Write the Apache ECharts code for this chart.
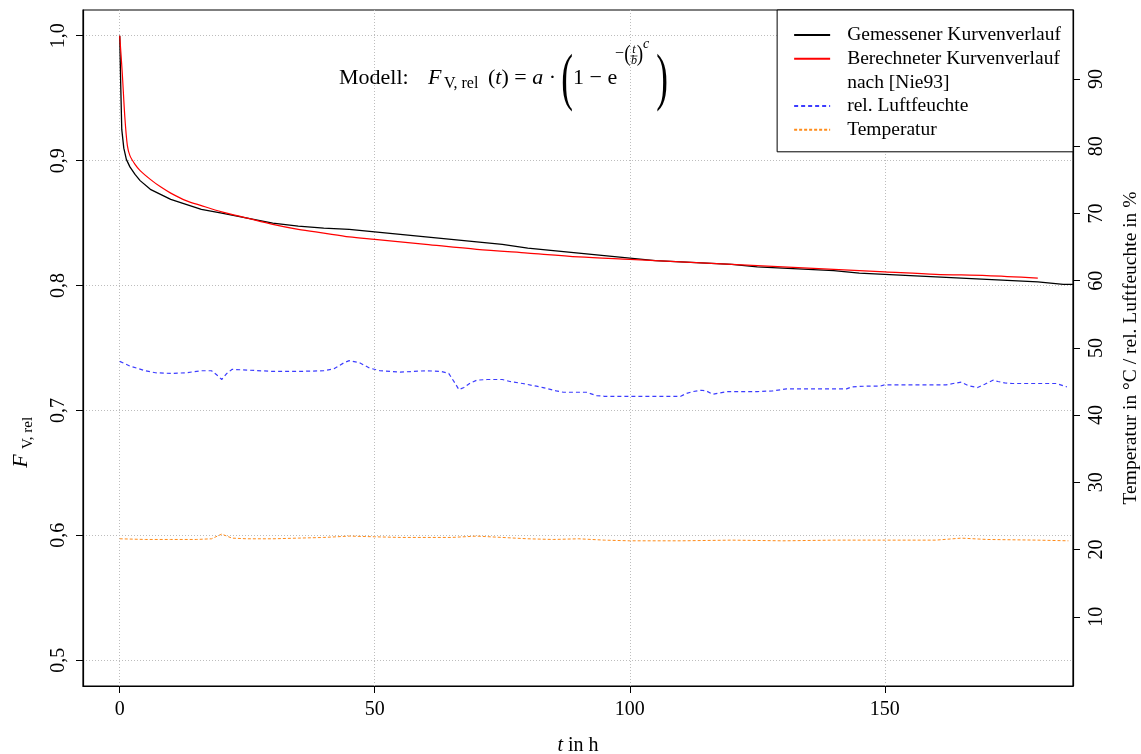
<!DOCTYPE html>
<html><head><meta charset="utf-8">
<script src="https://cdn.jsdelivr.net/npm/echarts@6/dist/echarts.min.js"></script>
<style>html,body{margin:0;padding:0;background:#fff}#c{width:1141px;height:754px}</style>
</head><body><div id="c"></div><script>
// ---- tick values ----
const xTicks = [0, 50, 100, 150];
const yLeftTicks = [0.5, 0.6, 0.7, 0.8, 0.9, 1.0];
const yRightTicks = [10, 20, 30, 40, 50, 60, 70, 80, 90];

// ---- Gemessener Kurvenverlauf (measured) ----
const tMeasured = [0, 0.2, 0.4, 0.8, 1.3, 2, 3, 4, 6, 8, 10, 13, 16, 20, 25, 30, 35, 40, 45, 50, 55, 60, 65, 70, 75, 80, 85, 90, 95, 100, 105, 110, 115, 120, 125, 130, 135, 140, 145, 150, 155, 160, 165, 170, 175, 180, 185, 186.9];
const fMeasured = [1.0, 0.96, 0.925, 0.910, 0.901, 0.895, 0.889, 0.884, 0.877, 0.873, 0.869, 0.865, 0.861, 0.858, 0.854, 0.850, 0.8475, 0.846, 0.845, 0.843, 0.841, 0.839, 0.837, 0.835, 0.833, 0.830, 0.828, 0.826, 0.824, 0.822, 0.820, 0.819, 0.818, 0.817, 0.815, 0.814, 0.813, 0.812, 0.810, 0.809, 0.808, 0.807, 0.806, 0.805, 0.804, 0.803, 0.801, 0.801];

// ---- Berechneter Kurvenverlauf (model) ----
const tModel = [0, 0.5, 1, 1.5, 2, 3, 4, 6, 8, 10, 13, 16, 20, 25, 30, 35, 40, 45, 50, 60, 70, 80, 90, 100, 110, 120, 130, 140, 150, 160, 170, 180];
const fModel = [1.0, 0.97, 0.935, 0.912, 0.904, 0.897, 0.892, 0.885, 0.879, 0.874, 0.868, 0.864, 0.859, 0.854, 0.849, 0.845, 0.842, 0.839, 0.837, 0.833, 0.829, 0.826, 0.823, 0.821, 0.819, 0.817, 0.815, 0.813, 0.811, 0.809, 0.808, 0.806];

// ---- rel. Luftfeuchte (%) ----
const tHum = [0, 2, 5, 7, 10, 13, 16, 18, 19, 20, 21, 22, 25, 30, 35, 40, 42, 44, 45, 47, 49, 51, 55, 60, 63, 64.5, 65.7, 66.5, 67.5, 68.6, 70, 72, 75, 76.5, 79, 81.7, 83, 85.6, 87, 91.5, 93.5, 95, 100, 105, 110, 111, 112.4, 114, 115, 116.3, 117.6, 119, 125, 128, 130.7, 136, 142.5, 143.5, 146, 149, 150, 162, 163.4, 165, 166.3, 168.2, 169.6, 171.2, 172.2, 173.5, 175, 183.7, 185.7];
const vHum = [48.0, 47.3, 46.6, 46.3, 46.2, 46.3, 46.6, 46.6, 46.0, 45.3, 46.2, 46.8, 46.7, 46.5, 46.5, 46.6, 46.9, 47.8, 48.1, 47.8, 47.0, 46.6, 46.4, 46.6, 46.5, 46.2, 44.8, 43.8, 44.1, 44.7, 45.2, 45.3, 45.3, 45.0, 44.7, 44.3, 44.1, 43.6, 43.4, 43.4, 42.9, 42.8, 42.8, 42.8, 42.8, 43.2, 43.5, 43.7, 43.6, 43.1, 43.3, 43.5, 43.5, 43.6, 43.9, 43.9, 43.9, 44.2, 44.3, 44.3, 44.5, 44.5, 44.7, 44.9, 44.4, 44.1, 44.6, 45.2, 45.0, 44.8, 44.7, 44.7, 44.2];

// ---- Temperatur (°C) ----
const tTemp = [0, 5, 10, 15, 18, 20, 22, 25, 30, 35, 40, 45, 50, 55, 60, 65, 70, 75, 80, 85, 90, 95, 100, 110, 120, 130, 140, 150, 160, 165, 170, 180, 186];
const vTemp = [21.6, 21.5, 21.5, 21.5, 21.6, 22.3, 21.7, 21.6, 21.6, 21.7, 21.8, 22.0, 21.9, 21.8, 21.8, 21.8, 22.0, 21.8, 21.6, 21.5, 21.6, 21.4, 21.3, 21.3, 21.4, 21.3, 21.4, 21.4, 21.4, 21.7, 21.5, 21.4, 21.3];

const names = ['Gemessener Kurvenverlauf', 'Berechneter Kurvenverlauf', 'nach [Nie93]', 'rel. Luftfeuchte', 'Temperatur'];

const pairs = (xs, ys) => xs.map((x, i) => [x, ys[i]]);
const SERIF = '"Liberation Serif", "DejaVu Serif", serif';
const gridLine = { show: true, lineStyle: { color: '#bdbdbd', width: 1, type: [1, 2] } };

const chart = echarts.init(document.getElementById('c'), null, { renderer: 'canvas' });
chart.setOption({
  animation: false,
  backgroundColor: '#fff',
  grid: { left: 83, right: 68, top: 10, bottom: 68, outerBoundsMode: 'none', containLabel: false,
    show: true, borderColor: '#000', borderWidth: 1.2, backgroundColor: 'transparent' },
  xAxis: {
    type: 'value', min: -7.2, max: 186.9,
    axisLine: { show: true, onZero: false, lineStyle: { color: '#000', width: 1.2 } },
    axisTick: { show: true, length: 7, customValues: xTicks, lineStyle: { color: '#000' } },
    axisLabel: { customValues: xTicks, margin: 14, fontFamily: SERIF, fontSize: 20, color: '#000' },
    splitLine: gridLine,
    name: '{i|t} in h', nameLocation: 'middle', nameGap: 50,
    nameTextStyle: { fontFamily: SERIF, fontSize: 20, color: '#000', rich: { i: { fontFamily: SERIF, fontSize: 20, fontStyle: 'italic', color: '#000' } } }
  },
  yAxis: [{
    type: 'value', min: 0.4794, max: 1.0206, position: 'left',
    axisLine: { show: true, onZero: false, lineStyle: { color: '#000', width: 1.2 } },
    axisTick: { show: true, length: 7, customValues: yLeftTicks, lineStyle: { color: '#000' } },
    axisLabel: { customValues: yLeftTicks, rotate: 90, margin: 14, fontFamily: SERIF, fontSize: 20, color: '#000',
      formatter: v => v.toFixed(1).replace('.', ',') },
    splitLine: gridLine
  }, {
    type: 'value', min: -0.3, max: 100.27, position: 'right',
    axisLine: { show: true, onZero: false, lineStyle: { color: '#000', width: 1.2 } },
    axisTick: { show: true, length: 7, customValues: yRightTicks, lineStyle: { color: '#000' } },
    axisLabel: { customValues: yRightTicks, rotate: 90, margin: 14, fontFamily: SERIF, fontSize: 20, color: '#000' },
    splitLine: { show: false },
    name: 'Temperatur in °C / rel. Luftfeuchte in %', nameLocation: 'middle', nameGap: 48,
    nameTextStyle: { fontFamily: SERIF, fontSize: 19.5, color: '#000' }
  }],
  legend: {
    orient: 'vertical', right: 68, top: 10,
    padding: [15, 12, 12, 16], itemGap: 3.7, itemWidth: 36, itemHeight: 14,
    backgroundColor: '#fff', borderColor: '#000', borderWidth: 1, borderRadius: 0,
    itemStyle: { opacity: 0 },
    textStyle: { fontFamily: SERIF, fontSize: 19.5, color: '#000', lineHeight: 20, padding: [0, 0, 0, 12] },
    data: [
      { name: names[0] },
      { name: names[1] },
      { name: names[2], itemStyle: { opacity: 0 }, lineStyle: { opacity: 0 } },
      { name: names[3] },
      { name: names[4] }
    ]
  },
  graphic: [
    { type: 'text', x: 339, y: 78, style: { text: 'Modell:', font: '22px ' + SERIF, fill: '#000', textVerticalAlign: 'middle' } },
    { type: 'text', x: 428, y: 78, style: { text: 'F', font: 'italic 22px ' + SERIF, fill: '#000', textVerticalAlign: 'middle' } },
    { type: 'text', x: 444, y: 84, style: { text: 'V, rel', font: '16px ' + SERIF, fill: '#000', textVerticalAlign: 'middle' } },
    { type: 'text', x: 488, y: 78, style: { text: '({i|t}) = {i|a} ·', font: '22px ' + SERIF, fill: '#000', textVerticalAlign: 'middle',
      rich: { i: { fontFamily: SERIF, fontSize: 22, fontStyle: 'italic', fill: '#000' } } } },
    { type: 'text', x: 567, y: 81, scaleX: 0.55, style: { text: '(', font: '64px ' + SERIF, fill: '#000', textAlign: 'center', textVerticalAlign: 'middle' } },
    { type: 'text', x: 573, y: 78, style: { text: '1 − e', font: '22px ' + SERIF, fill: '#000', textVerticalAlign: 'middle' } },
    { type: 'text', x: 615, y: 54, style: { text: '−', font: '16px ' + SERIF, fill: '#000', textVerticalAlign: 'middle' } },
    { type: 'text', x: 627.5, y: 55, scaleX: 0.8, style: { text: '(', font: '24px ' + SERIF, fill: '#000', textAlign: 'center', textVerticalAlign: 'middle' } },
    { type: 'text', x: 634, y: 50, style: { text: 't', font: 'italic 12px ' + SERIF, fill: '#000', textAlign: 'center', textVerticalAlign: 'middle' } },
    { type: 'line', shape: { x1: 630.5, y1: 56, x2: 637.5, y2: 56 }, style: { stroke: '#000', lineWidth: 0.7 } },
    { type: 'text', x: 634, y: 61, style: { text: 'b', font: 'italic 12px ' + SERIF, fill: '#000', textAlign: 'center', textVerticalAlign: 'middle' } },
    { type: 'text', x: 640, y: 55, scaleX: 0.8, style: { text: ')', font: '24px ' + SERIF, fill: '#000', textAlign: 'center', textVerticalAlign: 'middle' } },
    { type: 'text', x: 643, y: 44, style: { text: 'c', font: 'italic 14px ' + SERIF, fill: '#000', textVerticalAlign: 'middle' } },
    { type: 'text', x: 662, y: 81, scaleX: 0.55, style: { text: ')', font: '64px ' + SERIF, fill: '#000', textAlign: 'center', textVerticalAlign: 'middle' } },
    // left axis title F_{V, rel}
    { type: 'text', x: 21, y: 461, rotation: Math.PI / 2, style: { text: 'F', font: 'italic 22px ' + SERIF, fill: '#000', textAlign: 'center', textVerticalAlign: 'middle' } },
    { type: 'text', x: 28, y: 433, rotation: Math.PI / 2, style: { text: 'V, rel', font: '15px ' + SERIF, fill: '#000', textAlign: 'center', textVerticalAlign: 'middle' } }
  ],
  series: [
    { name: names[0], type: 'line', yAxisIndex: 0, data: pairs(tMeasured, fMeasured), symbol: 'none', lineStyle: { color: '#000', width: 1.3 }, itemStyle: { color: '#000' } },
    { name: names[1], type: 'line', yAxisIndex: 0, data: pairs(tModel, fModel), symbol: 'none', smooth: 0.3, lineStyle: { color: '#ff0000', width: 1.2 }, itemStyle: { color: '#ff0000' } },
    { name: names[2], type: 'line', yAxisIndex: 0, data: [], symbol: 'none', lineStyle: { opacity: 0 }, itemStyle: { opacity: 0 } },
    { name: names[3], type: 'line', yAxisIndex: 1, data: pairs(tHum, vHum), symbol: 'none', lineStyle: { color: '#3c3cff', width: 1.2, type: [4, 3] }, itemStyle: { color: '#3c3cff' } },
    { name: names[4], type: 'line', yAxisIndex: 1, data: pairs(tTemp, vTemp), symbol: 'none', lineStyle: { color: '#ff8c1a', width: 1, type: [3, 2] }, itemStyle: { color: '#ff8c1a' } }
  ]
});
</script></body></html>
